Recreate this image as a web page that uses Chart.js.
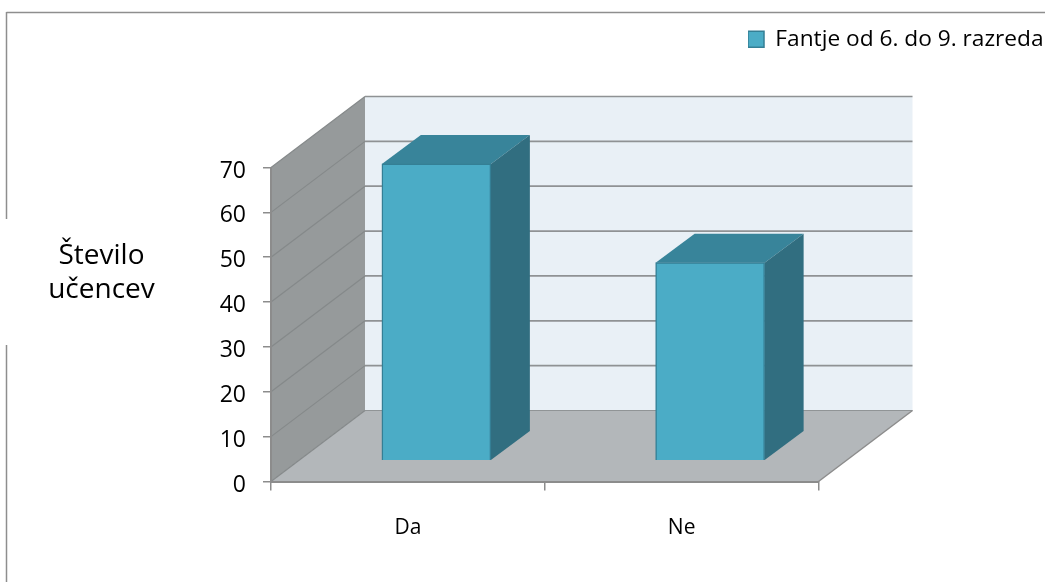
<!DOCTYPE html>
<html>
<head>
<meta charset="utf-8">
<style>html,body{margin:0;padding:0;background:#fff}canvas{display:block}</style>
<script src="https://cdn.jsdelivr.net/npm/chart.js@4"></script>
</head>
<body>
<canvas id="c" width="1045" height="582"></canvas>
<script>
const categories = ['Da', 'Ne'];
const seriesName = 'Fantje od 6. do 9. razreda';
const boysValues = [66, 44];
const yTickValues = [0, 10, 20, 30, 40, 50, 60, 70];
const yAxisLabelLines = ['Število', 'učencev'];

const FONT = '"Open Sans"';
const WALL_DX = 94, WALL_DY = -71;      // depth of the 3D box
const BAR_DX = 28.5, BAR_DY = -21.5;    // where the bars sit in that depth
const FACE_DX = 39, FACE_DY = -29;      // depth of each bar

function poly(ctx, pts, fill) {
  ctx.beginPath();
  pts.forEach((p, i) => i ? ctx.lineTo(p[0], p[1]) : ctx.moveTo(p[0], p[1]));
  ctx.closePath();
  ctx.fillStyle = fill;
  ctx.fill();
}
function seg(ctx, x1, y1, x2, y2, color, w) {
  ctx.beginPath();
  ctx.moveTo(x1, y1); ctx.lineTo(x2, y2);
  ctx.strokeStyle = color; ctx.lineWidth = w;
  ctx.stroke();
}

const scene = {
  id: 'scene',
  afterLayout(chart) {
    chart.scales.xBar._startPixel += BAR_DX;
    chart.scales.yBar._startPixel += BAR_DY;
    const t = chart.titleBlock;
    t.left = 0; t.right = 203; t.top = 239.5; t.bottom = 307.5;
    const l = chart.legend;
    l.left = 748; l.right = 1045; l.top = 28; l.bottom = 52;
    // the tick numbers sit a little below their tick marks
    chart.scales.y.getLabelItems().forEach(item => {
      const tr = item.options.translation;
      item.options.translation = [tr[0], tr[1] + 3.5];
    });
  },
  beforeDraw(chart) {
    const ctx = chart.ctx;
    const x = chart.scales.x, y = chart.scales.y;
    const L = x.left, R = x.right, B = y.bottom, T = y.top;
    ctx.save();
    // page frame
    seg(ctx, 6.5, 12.5, 1045, 12.5, '#8e8e8e', 1.5);
    seg(ctx, 6.5, 12, 6.5, 219, '#8e8e8e', 1.5);
    seg(ctx, 6.5, 345, 6.5, 582, '#8e8e8e', 1.5);
    // walls and floor
    poly(ctx, [[L + WALL_DX, T + WALL_DY], [R + WALL_DX, T + WALL_DY], [R + WALL_DX, B + WALL_DY], [L + WALL_DX, B + WALL_DY]], '#e9f0f6');
    poly(ctx, [[L, T], [L + WALL_DX, T + WALL_DY], [L + WALL_DX, B + WALL_DY], [L, B]], '#969a9b');
    poly(ctx, [[L, B], [L + WALL_DX, B + WALL_DY], [R + WALL_DX, B + WALL_DY], [R, B]], '#b3b7ba');
    // gridlines follow the y scale around the box
    yTickValues.forEach(v => {
      const p = y.getPixelForValue(v);
      seg(ctx, L, p, L + WALL_DX, p + WALL_DY, '#85898a', 1.2);
      seg(ctx, L + WALL_DX, p + WALL_DY, R + WALL_DX, p + WALL_DY, v === 0 ? '#909496' : '#8f9294', v === 0 ? 1.2 : 1.7);
    });
    seg(ctx, R, B, R + WALL_DX, B + WALL_DY, '#8c8c8c', 1.5);
    ctx.restore();
  },
  beforeDatasetsDraw(chart) {
    const ctx = chart.ctx;
    ctx.save();
    chart.getDatasetMeta(0).data.forEach(bar => {
      const l = bar.x - bar.width / 2, r = bar.x + bar.width / 2;
      poly(ctx, [[l, bar.y], [l + FACE_DX, bar.y + FACE_DY], [r + FACE_DX, bar.y + FACE_DY], [r, bar.y]], '#38849a');
      poly(ctx, [[r, bar.y], [r + FACE_DX, bar.y + FACE_DY], [r + FACE_DX, bar.base + FACE_DY], [r, bar.base]], '#316e80');
    });
    ctx.restore();
  }
};

new Chart(document.getElementById('c'), {
  type: 'bar',
  data: {
    labels: categories,
    datasets: [{
      label: seriesName,
      data: boysValues,
      xAxisID: 'xBar',
      yAxisID: 'yBar',
      backgroundColor: '#4bacc6',
      borderColor: '#347f95',
      borderWidth: 1.5,
      barThickness: 109,
      clip: false
    }]
  },
  options: {
    responsive: false,
    animation: false,
    events: [],
    layout: { padding: { top: 99.5, left: 0, right: 226.5, bottom: 0 } },
    scales: {
      x: {
        type: 'category',
        offset: true,
        position: 'bottom',
        afterFit: s => { s.height = 100.5; },
        grid: { offset: true, drawOnChartArea: false, drawTicks: true, tickLength: 9, color: '#8c8c8c', lineWidth: 1.5 },
        border: { color: '#8c8c8c', width: 2 },
        ticks: { color: '#000', font: { family: FONT, size: 21 }, padding: 25, maxRotation: 0 }
      },
      y: {
        type: 'linear',
        min: 0,
        max: 70,
        position: 'left',
        afterFit: s => { s.width = 271; },
        grid: { drawOnChartArea: false, drawTicks: true, tickLength: 8, color: '#8c8c8c', lineWidth: 1.5 },
        border: { color: '#8c8c8c', width: 2 },
        ticks: { color: '#000', font: { family: FONT, size: 23 }, padding: 17, stepSize: 10 }
      },
      xBar: { type: 'category', offset: true, display: false, position: 'bottom' },
      yBar: { type: 'linear', min: 0, max: 70, display: false, position: 'left' }
    },
    plugins: {
      tooltip: { enabled: false },
      title: {
        display: true,
        text: yAxisLabelLines,
        position: 'top',
        align: 'center',
        color: '#000',
        padding: 0,
        font: { family: FONT, size: 28, weight: 'normal', lineHeight: 34 / 28 }
      },
      legend: {
        display: true,
        position: 'chartArea',
        align: 'start',
        labels: {
          color: '#000',
          boxWidth: 16,
          boxHeight: 16,
          padding: 0,
          font: { family: FONT, size: 22.7 }
        }
      }
    }
  },
  plugins: [scene]
});
</script>
</body>
</html>
